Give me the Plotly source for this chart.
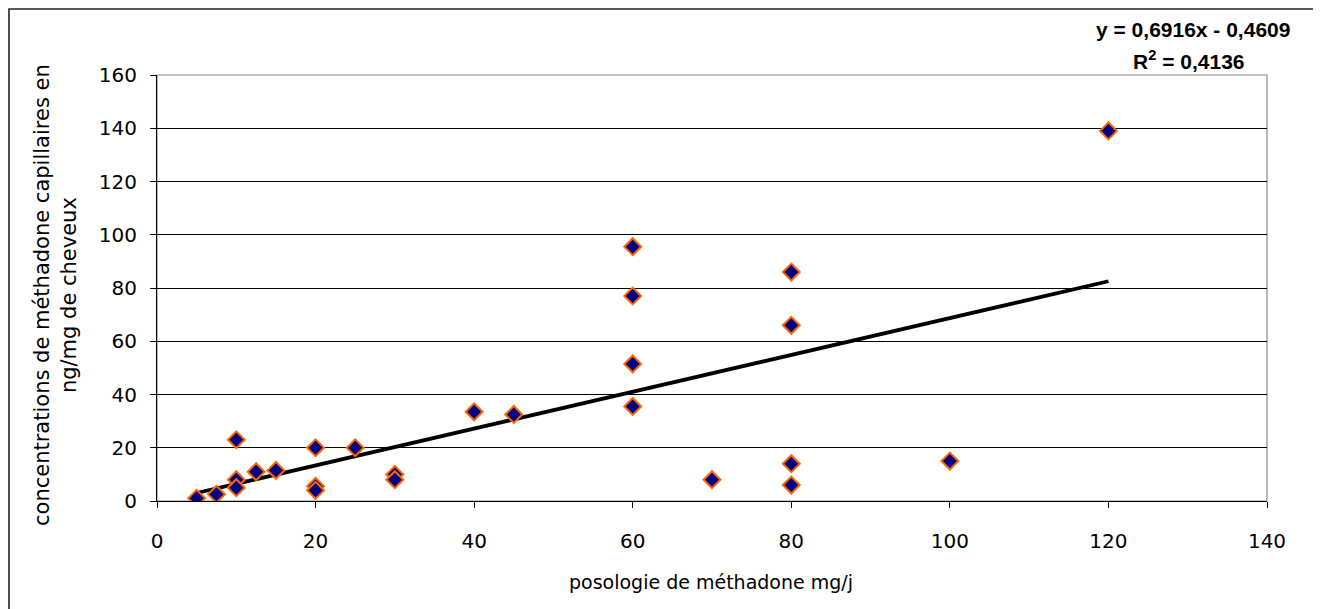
import plotly.graph_objects as go

# Data
posologie = [5, 7.5, 10, 10, 10, 12.5, 15, 20, 20, 20, 25, 30, 30, 40, 45,
             60, 60, 60, 60, 70, 80, 80, 80, 80, 100, 120]
concentration = [1, 2.5, 23, 8, 5, 11, 11.5, 20, 5.5, 4, 20, 10, 8, 33.5, 32.5,
                 95.5, 77, 51.5, 35.5, 8, 86, 66, 14, 6, 15, 139]
slope = 0.6916
intercept = -0.4609
r2 = 0.4136
x_ticks = [0, 20, 40, 60, 80, 100, 120, 140]
y_ticks = [0, 20, 40, 60, 80, 100, 120, 140, 160]

OFF = 8  # page body margin
W, H = 1313, 601
L, R, T, B = 157 - OFF, 1267 - OFF, 75 - OFF, 501 - OFF


def px(xp):
    return (xp - OFF - L) / (R - L)


def py(yp):
    return (B - (yp - OFF)) / (B - T)


trend_x = [min(posologie), max(posologie)]
trend_y = [slope * v + intercept for v in trend_x]

FONT = "DejaVu Sans"

fig = go.Figure()
fig.add_trace(go.Scatter(
    x=trend_x, y=trend_y, mode="lines",
    line=dict(color="black", width=3.8), hoverinfo="skip", showlegend=False))
fig.add_trace(go.Scatter(
    x=posologie, y=concentration, mode="markers",
    marker=dict(symbol="diamond", size=13, color="#000080",
                line=dict(color="#FF6600", width=2)),
    showlegend=False))


def ann(text, x, y, size, family=FONT, angle=0):
    return dict(text=text, xref="paper", yref="paper", x=px(x), y=py(y),
                xanchor="center", yanchor="middle", showarrow=False,
                textangle=angle, font=dict(size=size, family=family))


fig.update_layout(
    width=W, height=H,
    margin=dict(l=L, r=W - R, t=T, b=H - B, autoexpand=False),
    paper_bgcolor="white", plot_bgcolor="white",
    font=dict(family=FONT, color="black"),
    xaxis=dict(range=[0, 140], tickvals=x_ticks, showgrid=False, zeroline=False,
               showline=True, linecolor="black", linewidth=1.2,
               ticks="outside", ticklen=6, tickcolor="black",
               ticklabelstandoff=16,
               tickfont=dict(size=20, family=FONT), fixedrange=True),
    yaxis=dict(range=[0, 160], tickvals=y_ticks, showgrid=True,
               gridcolor="black", gridwidth=1, zeroline=False,
               showline=True, linecolor="black", linewidth=1.2,
               ticks="outside", ticklen=6, tickcolor="black",
               ticklabelstandoff=9,
               tickfont=dict(size=20, family=FONT), fixedrange=True),
    shapes=[
        dict(type="rect", xref="paper", yref="paper", x0=0, x1=1, y0=0, y1=1,
             line=dict(color="#888888", width=1.2), layer="below"),
        dict(type="rect", xref="paper", yref="paper",
             x0=px(9), x1=px(1316), y0=py(640), y1=py(9),
             line=dict(color="#222222", width=1.6)),
    ],
    annotations=[
        ann("posologie de méthadone mg/j", 711, 582, 19),
        ann("concentrations de méthadone capillaires en<br>ng/mg de cheveux",
            55, 295, 21, angle=-90),
        ann("<b>y = 0,6916x - 0,4609</b>", 1193, 30, 21, "Liberation Sans"),
        ann("<b>R<sup>2</sup> = 0,4136</b>", 1189, 60, 21, "Liberation Sans"),
    ],
)

fig.write_html("out.html")
